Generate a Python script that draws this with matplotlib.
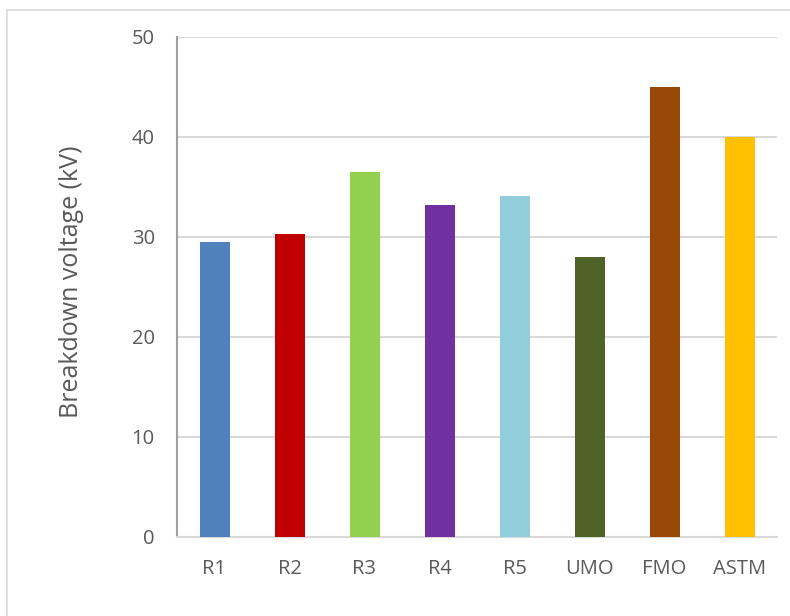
import matplotlib.pyplot as plt
from matplotlib.patches import Rectangle

# Breakdown voltage per sample
categories = ["R1", "R2", "R3", "R4", "R5", "UMO", "FMO", "ASTM"]
voltages = [29.5, 30.3, 36.5, 33.2, 34.1, 28.0, 45.0, 40.0]
colors = ["#4F81BD", "#C00000", "#92D050", "#7030A0",
          "#92CDDC", "#4F6228", "#984807", "#FFC000"]
yticks = [0, 10, 20, 30, 40, 50]

plt.rcParams["font.family"] = ["Open Sans", "DejaVu Sans"]
text_color = "#595959"

fig = plt.figure(figsize=(7.9, 6.16), dpi=100)
ax = fig.add_axes([177 / 790, 79 / 616, 600 / 790, 500 / 616])

x = range(len(categories))
ax.bar(x, voltages, width=0.4, color=colors, zorder=3)

ax.set_xlim(-0.5, len(categories) - 0.5)
ax.set_ylim(0, 50)
ax.set_yticks(yticks)
ax.set_xticks(list(x))
ax.set_xticklabels(categories)

ax.grid(axis="y", color="#d9d9d9", linewidth=1.5, zorder=0)
ax.tick_params(axis="both", length=0, labelsize=14.5, colors=text_color)
ax.tick_params(axis="x", pad=16)
ax.tick_params(axis="y", pad=16)

for side in ["top", "right"]:
    ax.spines[side].set_visible(False)
ax.spines["left"].set_color("#a0a0a0")
ax.spines["left"].set_linewidth(1.5)
ax.spines["bottom"].set_color("#d9d9d9")
ax.spines["bottom"].set_linewidth(1.5)

# y label placed in figure coordinates
fig.text(72 / 790, 1 - 282 / 616, "Breakdown voltage (kV)", rotation=90,
         ha="center", va="center", fontsize=18, color=text_color)

# outer chart frame (only the top and left edges fall inside the image)
fig.patches.append(Rectangle((7 / 790, -0.1), 1.2, (616 - 10) / 616 + 0.1,
                             transform=fig.transFigure, fill=False,
                             edgecolor="#d9d9d9", linewidth=1.2))

fig.savefig("out.png", dpi=100)
